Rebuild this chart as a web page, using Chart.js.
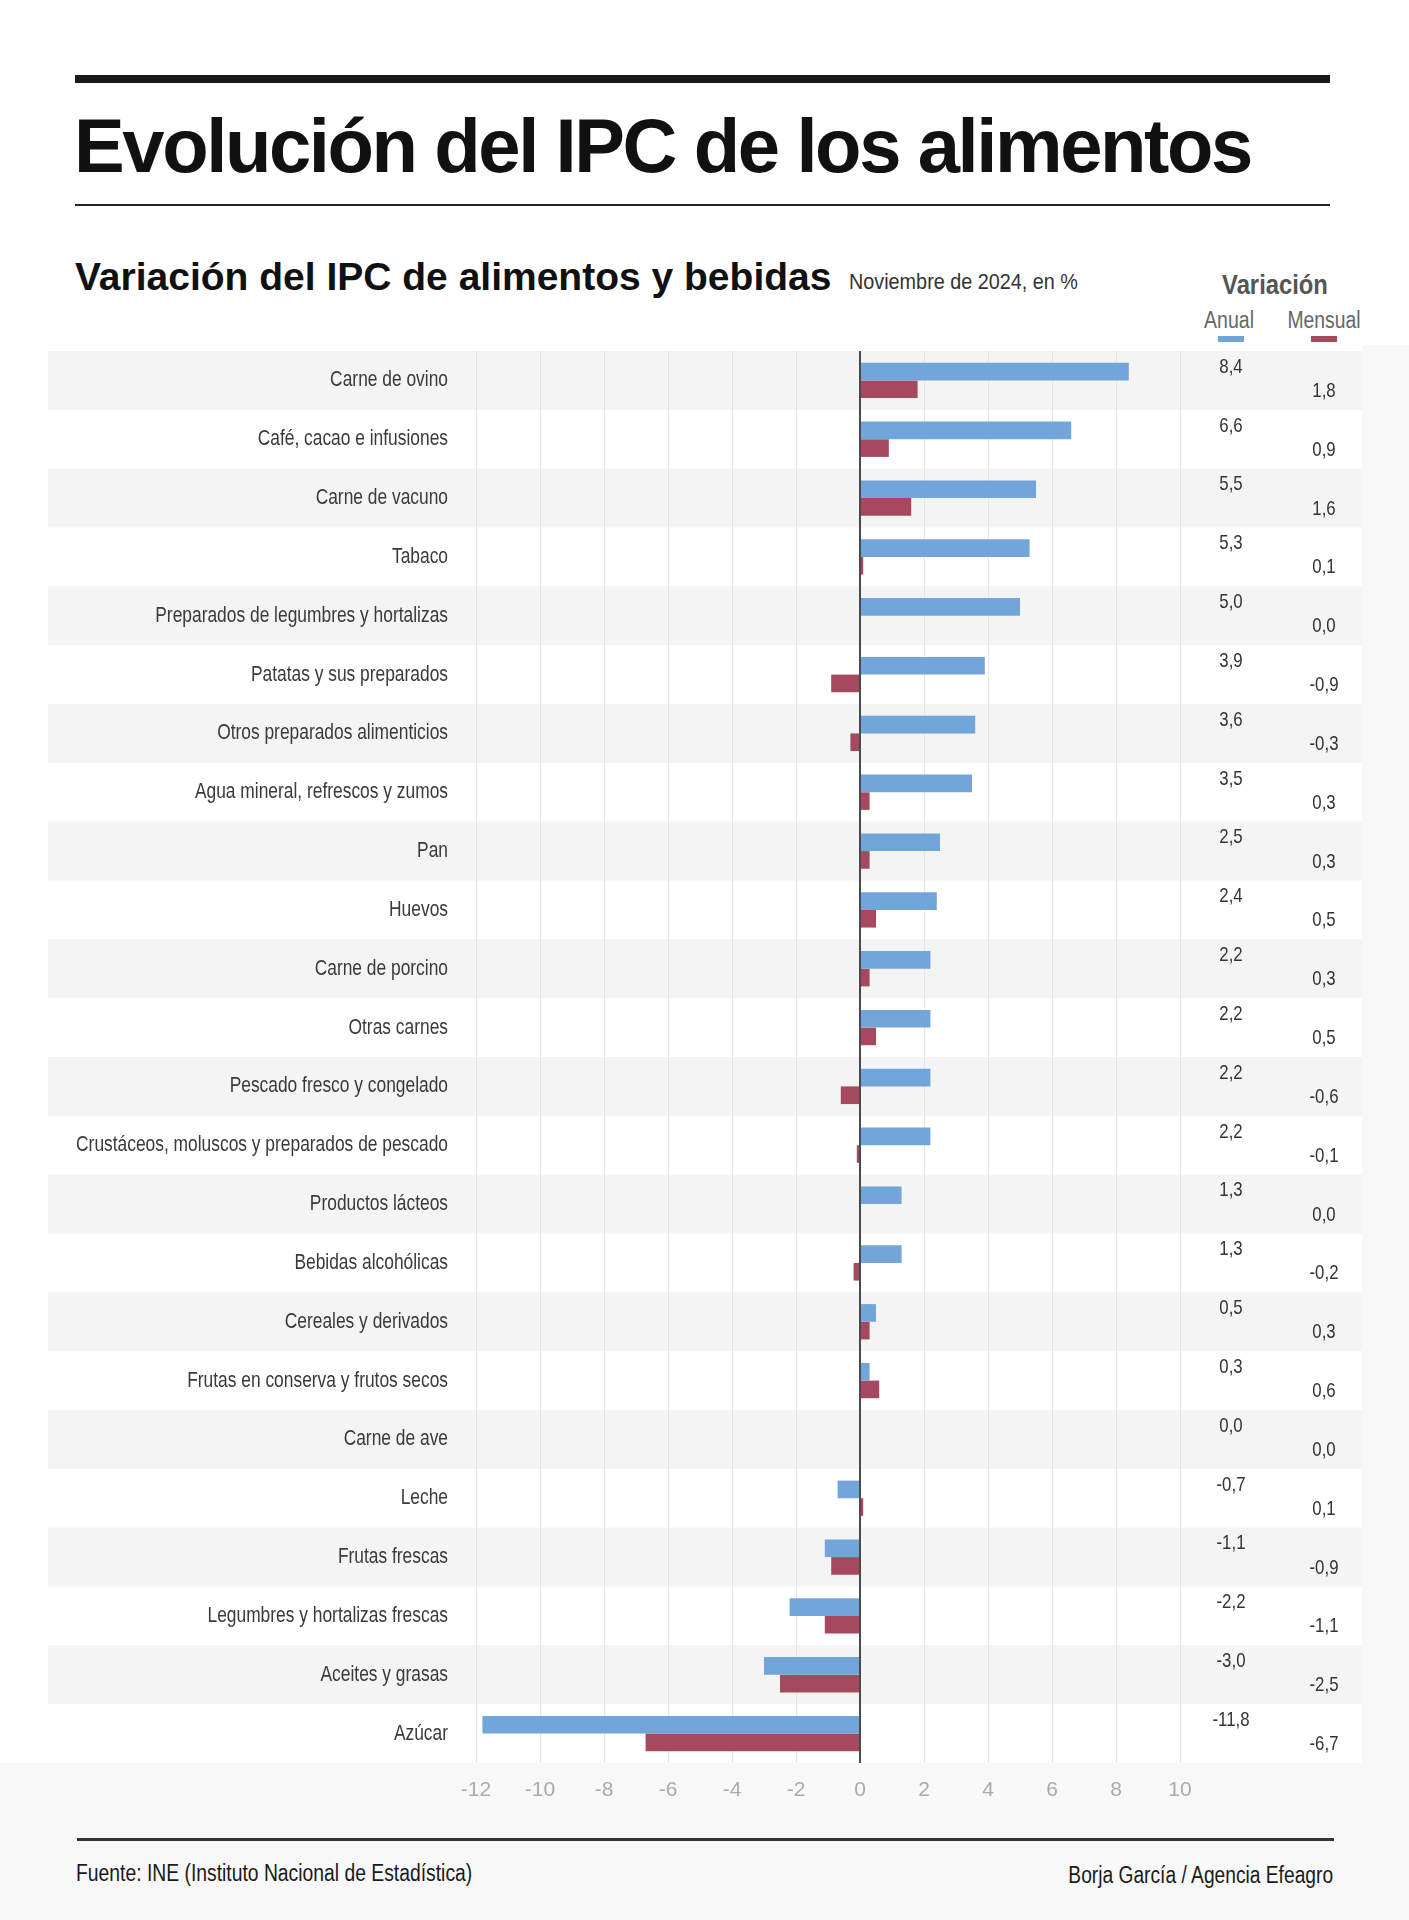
<!DOCTYPE html>
<html lang="es">
<head>
<meta charset="utf-8">
<title>Evolución del IPC de los alimentos</title>
<script src="https://cdn.jsdelivr.net/npm/chart.js@4.4.1/dist/chart.umd.min.js"></script>
<style>
  html, body { margin: 0; padding: 0; background: #ffffff; }
  body { width: 1409px; height: 1920px; position: relative; overflow: hidden; font-family: "Liberation Sans", Arial, sans-serif; }
  .abs { position: absolute; white-space: nowrap; line-height: 1; }
  #bottomBg { position: absolute; left: 0; top: 1763px; width: 1409px; height: 157px; background: #f8f8f8; }
  #rightBg { position: absolute; left: 1362px; top: 345px; width: 47px; height: 1418px; background: #f8f8f8; }
  #chartWrap { position: absolute; left: 0; top: 331px; width: 1409px; height: 1490px; }
</style>
</head>
<body>
<div id="bottomBg"></div>
<div id="rightBg"></div>

<div class="abs" style="left:75px; top:75px; width:1255px; height:8px; background:#1a1a1a;"></div>
<div class="abs" style="left:74px; top:108px; font-size:76px; font-weight:bold; letter-spacing:-2.4px; color:#111;">Evolución del IPC de los alimentos</div>
<div class="abs" style="left:75px; top:204px; width:1255px; height:2px; background:#222;"></div>

<div class="abs" style="left:75px; top:257px; font-size:39px; font-weight:bold; color:#111;">Variación del IPC de alimentos y bebidas</div>
<div class="abs" style="left:849px; top:271px; font-size:22px; color:#333; transform:scaleX(0.9); transform-origin:left top;">Noviembre de 2024, en %</div>

<div class="abs" style="left:1175px; width:200px; text-align:center; top:271px; font-size:28px; font-weight:bold; color:#555; transform:scaleX(0.85); transform-origin:center top;">Variación</div>
<div class="abs" style="left:1179px; width:100px; text-align:center; top:309px; font-size:23px; color:#666; transform:scaleX(0.85); transform-origin:center top;">Anual</div>
<div class="abs" style="left:1274px; width:100px; text-align:center; top:309px; font-size:23px; color:#666; transform:scaleX(0.84); transform-origin:center top;">Mensual</div>
<div class="abs" style="left:1218px; top:336px; width:26px; height:6px; background:#72A6DA;"></div>
<div class="abs" style="left:1311px; top:336px; width:26px; height:6px; background:#A6495F;"></div>

<div id="chartWrap"><canvas id="c" width="1409" height="1490"></canvas></div>

<div class="abs" style="left:77px; top:1838px; width:1257px; height:3px; background:#333;"></div>
<div class="abs" style="left:76px; top:1862px; font-size:23px; color:#1a1a1a; transform:scaleX(0.84); transform-origin:left top;">Fuente: INE (Instituto Nacional de Estadística)</div>
<div class="abs" style="right:76px; top:1864px; font-size:23px; color:#1a1a1a; transform:scaleX(0.835); transform-origin:right top;">Borja García / Agencia Efeagro</div>

<script>
const categories = [
  "Carne de ovino",
  "Café, cacao e infusiones",
  "Carne de vacuno",
  "Tabaco",
  "Preparados de legumbres y hortalizas",
  "Patatas y sus preparados",
  "Otros preparados alimenticios",
  "Agua mineral, refrescos y zumos",
  "Pan",
  "Huevos",
  "Carne de porcino",
  "Otras carnes",
  "Pescado fresco y congelado",
  "Crustáceos, moluscos y preparados de pescado",
  "Productos lácteos",
  "Bebidas alcohólicas",
  "Cereales y derivados",
  "Frutas en conserva y frutos secos",
  "Carne de ave",
  "Leche",
  "Frutas frescas",
  "Legumbres y hortalizas frescas",
  "Aceites y grasas",
  "Azúcar"
];
const anual = [8.4, 6.6, 5.5, 5.3, 5.0, 3.9, 3.6, 3.5, 2.5, 2.4, 2.2, 2.2, 2.2, 2.2, 1.3, 1.3, 0.5, 0.3, 0.0, -0.7, -1.1, -2.2, -3.0, -11.8];
const mensual = [1.8, 0.9, 1.6, 0.1, 0.0, -0.9, -0.3, 0.3, 0.3, 0.5, 0.3, 0.5, -0.6, -0.1, 0.0, -0.2, 0.3, 0.6, 0.0, 0.1, -0.9, -1.1, -2.5, -6.7];
const xTicks = [-12, -10, -8, -6, -4, -2, 0, 2, 4, 6, 8, 10];
const seriesNames = ["Anual", "Mensual"];

const FONT = "'Liberation Sans', Arial, sans-serif";
const NARROW_K = 0.79;   // horizontal condensing of the label typeface
const fmt = v => v.toFixed(1).replace('.', ',');

const bandsPlugin = {
  id: 'bands',
  beforeDraw(chart) {
    const ctx = chart.ctx;
    const y = chart.scales.y;
    const pitch = Math.abs(y.getPixelForValue(1) - y.getPixelForValue(0));
    ctx.save();
    ctx.fillStyle = '#f4f4f4';
    categories.forEach((c, i) => {
      if (i % 2 === 0) {
        const cy = y.getPixelForValue(i);
        ctx.fillRect(48, cy - pitch / 2, 1314, pitch);
      }
    });
    ctx.restore();
  }
};

const valuesPlugin = {
  id: 'values',
  afterDatasetsDraw(chart) {
    const ctx = chart.ctx;
    const y = chart.scales.y;
    ctx.save();
    ctx.font = "21px " + FONT;
    ctx.fillStyle = '#333';
    ctx.textAlign = 'center';
    ctx.textBaseline = 'middle';
    const put = (txt, x, yy) => {
      ctx.save();
      ctx.translate(x, yy);
      ctx.scale(0.8, 1);
      ctx.fillText(txt, 0, 0);
      ctx.restore();
    };
    categories.forEach((c, i) => {
      const cy = y.getPixelForValue(i);
      put(fmt(anual[i]), 1231, cy - 13.5);
      put(fmt(mensual[i]), 1324, cy + 10.7);
    });
    ctx.restore();
  }
};

new Chart(document.getElementById('c'), {
  type: 'bar',
  data: {
    labels: categories,
    datasets: [
      { label: seriesNames[0], data: anual, backgroundColor: '#72A6DA', borderWidth: 0, categoryPercentage: 0.6, barPercentage: 1.0 },
      { label: seriesNames[1], data: mensual, backgroundColor: '#A6495F', borderWidth: 0, categoryPercentage: 0.6, barPercentage: 1.0 }
    ]
  },
  options: {
    indexAxis: 'y',
    responsive: false,
    animation: false,
    devicePixelRatio: 1,
    layout: { padding: { left: 0, right: 229, top: 20, bottom: 18 } },
    plugins: { legend: { display: false }, tooltip: { enabled: false } },
    scales: {
      x: {
        type: 'linear',
        min: -12, max: 10,
        afterFit(scale) { scale.height = 40; },
        afterBuildTicks(scale) { scale.ticks = xTicks.map(v => ({ value: v })); },
        border: { display: false },
        grid: {
          drawTicks: false,
          color: ctx => (ctx.tick && ctx.tick.value === 0) ? '#4a4a4a' : '#e4e4e4',
          lineWidth: ctx => (ctx.tick && ctx.tick.value === 0) ? 2 : 1
        },
        ticks: {
          padding: 15,
          color: '#aaaaaa',
          font: { family: FONT, size: 21 },
          callback: v => String(v)
        }
      },
      y: {
        type: 'category',
        afterFit(scale) {
          scale.width = 476;
          if (!scale._condensed) {
            scale._condensed = true;
            const baseDraw = Object.getPrototypeOf(scale).draw;
            scale._computeLabelArea = function () { return undefined; };
            scale.draw = function (area) {
              const ctx = this.ctx;
              const ax = this.right - 28;
              ctx.save();
              ctx.translate(ax, 0);
              ctx.scale(NARROW_K, 1);
              ctx.translate(-ax, 0);
              baseDraw.call(this, area);
              ctx.restore();
            };
          }
        },
        border: { display: false },
        grid: { display: false, drawTicks: true, tickLength: 28 },
        ticks: {
          autoSkip: false,
          padding: 0,
          color: '#3a3a3a',
          font: { family: FONT, size: 22 }
        }
      }
    }
  },
  plugins: [bandsPlugin, valuesPlugin]
});
</script>
</body>
</html>
